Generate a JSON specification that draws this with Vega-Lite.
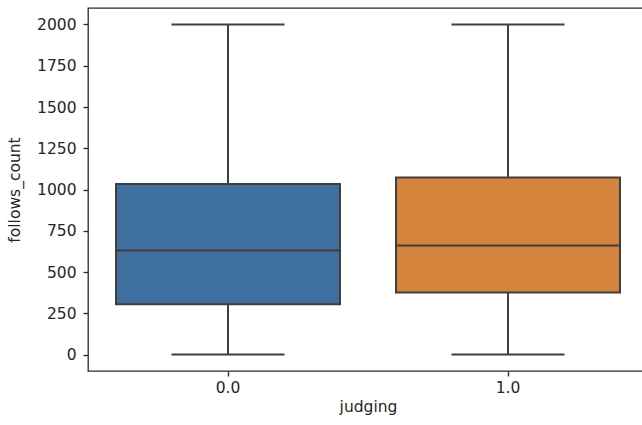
{
  "$schema": "https://vega.github.io/schema/vega-lite/v6.json",
  "autosize": {"type": "none"},
  "padding": {"left": 88, "top": 8, "right": 0, "bottom": 54},
  "width": 560,
  "height": 363,
  "background": "white",
  "config": {
    "view": {"stroke": "#2a2a2a", "strokeWidth": 1.3},
    "axis": {
      "labelFont": "DejaVu Sans",
      "titleFont": "DejaVu Sans",
      "labelFontSize": 15.5,
      "titleFontSize": 15.5,
      "titleFontWeight": "normal",
      "labelColor": "#262626",
      "titleColor": "#262626",
      "tickColor": "#2a2a2a",
      "tickSize": 5,
      "tickWidth": 1.3,
      "grid": false,
      "domain": false
    }
  },
  "data": {
    "values": [
      {"judging": "0.0", "min": 0, "q1": 305, "median": 630, "q3": 1033, "max": 2000},
      {"judging": "1.0", "min": 0, "q1": 376, "median": 660, "q3": 1073, "max": 2000}
    ]
  },
  "encoding": {
    "x": {
      "field": "judging",
      "type": "nominal",
      "scale": {"type": "band", "domain": ["0.0", "1.0"], "paddingInner": 0, "paddingOuter": 0},
      "axis": {"labelAngle": 0, "title": "judging", "labelPadding": 4, "titlePadding": 4}
    }
  },
  "layer": [
    {
      "mark": {"type": "rule", "color": "#3f3f3f", "strokeWidth": 2},
      "encoding": {
        "y": {
          "field": "min",
          "type": "quantitative",
          "scale": {"domain": [-100, 2100], "nice": false, "zero": false},
          "axis": {"values": [0, 250, 500, 750, 1000, 1250, 1500, 1750, 2000], "format": "d", "title": "follows_count", "labelPadding": 7, "titlePadding": 14}
        },
        "y2": {"field": "max"}
      }
    },
    {
      "mark": {"type": "bar", "stroke": "#3f3f3f", "strokeWidth": 2, "width": {"band": 0.8}},
      "encoding": {
        "y": {"field": "q1", "type": "quantitative"},
        "y2": {"field": "q3"},
        "fill": {
          "field": "judging",
          "type": "nominal",
          "scale": {"domain": ["0.0", "1.0"], "range": ["#3e6f9e", "#d5843d"]},
          "legend": null
        }
      }
    },
    {
      "mark": {"type": "tick", "color": "#3f3f3f", "thickness": 2, "size": 224, "opacity": 1},
      "encoding": {"y": {"field": "median", "type": "quantitative"}}
    },
    {
      "mark": {"type": "tick", "color": "#3f3f3f", "thickness": 2, "size": 113, "opacity": 1},
      "encoding": {"y": {"field": "min", "type": "quantitative"}}
    },
    {
      "mark": {"type": "tick", "color": "#3f3f3f", "thickness": 2, "size": 113, "opacity": 1},
      "encoding": {"y": {"field": "max", "type": "quantitative"}}
    }
  ]
}
